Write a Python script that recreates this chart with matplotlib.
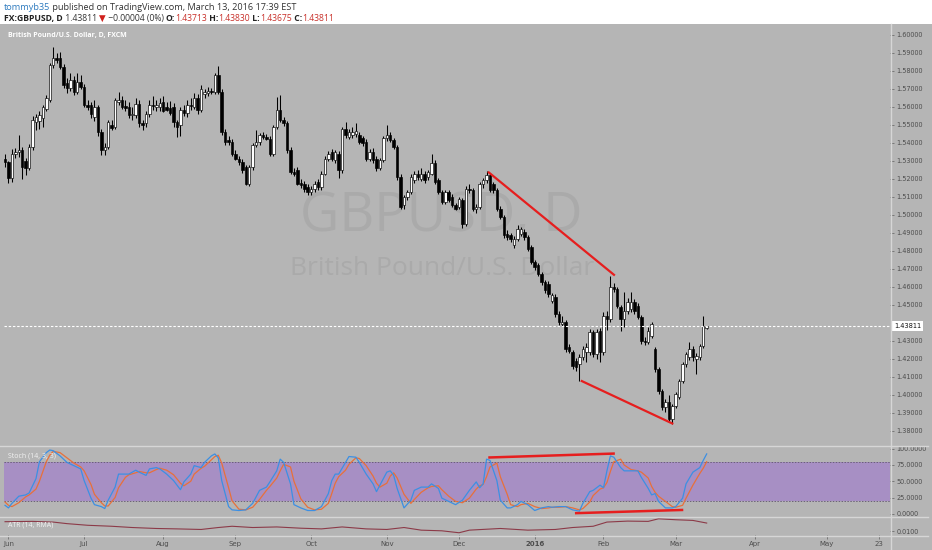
import matplotlib
matplotlib.use("Agg")
import matplotlib.pyplot as plt
from matplotlib.patches import Rectangle
from matplotlib.lines import Line2D
import numpy as np

# ---------------- data (daily bars, index 0 = 29 May 2015 ... 204 = 14 Mar 2016) -------------
open_ = [1.5313,1.5294,1.5205,1.5341,1.5352,1.5362,1.5300,1.5262,1.5378,1.5517,
         1.5520,1.5536,1.5591,1.5638,1.5833,1.5870,1.5870,1.5823,1.5731,1.5703,
         1.5749,1.5684,1.5740,1.5712,1.5610,1.5610,1.5545,1.5601,1.5461,1.5359,
         1.5378,1.5499,1.5489,1.5629,1.5638,1.5604,1.5601,1.5554,1.5554,1.5614,
         1.5508,1.5508,1.5560,1.5610,1.5600,1.5601,1.5625,1.5601,1.5592,1.5601,
         1.5517,1.5499,1.5582,1.5564,1.5610,1.5601,1.5647,1.5582,1.5670,1.5680,
         1.5690,1.5684,1.5777,1.5685,1.5462,1.5415,1.5406,1.5341,1.5313,1.5295,
         1.5267,1.5170,1.5267,1.5387,1.5406,1.5443,1.5434,1.5424,1.5341,1.5490,
         1.5582,1.5527,1.5508,1.5360,1.5239,1.5248,1.5180,1.5170,1.5155,1.5128,
         1.5146,1.5183,1.5156,1.5230,1.5313,1.5350,1.5304,1.5341,1.5248,1.5480,
         1.5434,1.5443,1.5450,1.5443,1.5425,1.5406,1.5313,1.5351,1.5313,1.5258,
         1.5304,1.5425,1.5443,1.5416,1.5378,1.5211,1.5054,1.5100,1.5128,1.5193,
         1.5230,1.5202,1.5230,1.5211,1.5230,1.5286,1.5193,1.5128,1.5072,1.5128,
         1.5100,1.5054,1.5044,1.5081,1.4951,1.5146,1.5140,1.5035,1.5044,1.5174,
         1.5193,1.5221,1.5170,1.5137,1.5035,1.4988,1.4896,1.4886,1.4831,1.4868,
         1.4896,1.4905,1.4877,1.4821,1.4738,1.4719,1.4673,1.4626,1.4617,1.4524,
         1.4543,1.4450,1.4394,1.4403,1.4264,1.4236,1.4190,1.4171,1.4208,1.4236,
         1.4236,1.4348,1.4227,1.4357,1.4236,1.4440,1.4420,1.4599,1.4589,1.4487,
         1.4422,1.4468,1.4478,1.4515,1.4496,1.4431,1.4301,1.4292,1.4329,1.4255,
         1.4143,1.4022,1.3930,1.3958,1.3865,1.3939,1.3990,1.4079,1.4171,1.4208,
         1.4255,1.4199,1.4208,1.4273,1.43713]
high = [1.5341,1.5300,1.5368,1.5372,1.5443,1.5380,1.5318,1.5392,1.5549,1.5558,
        1.5575,1.5610,1.5665,1.5845,1.5935,1.5898,1.5907,1.5840,1.5760,1.5786,
        1.5770,1.5786,1.5775,1.5725,1.5640,1.5625,1.5638,1.5612,1.5475,1.5400,
        1.5530,1.5530,1.5650,1.5684,1.5660,1.5640,1.5625,1.5600,1.5650,1.5640,
        1.5530,1.5580,1.5640,1.5660,1.5640,1.5650,1.5660,1.5630,1.5635,1.5620,
        1.5530,1.5600,1.5610,1.5640,1.5650,1.5675,1.5670,1.5720,1.5700,1.5712,
        1.5705,1.5790,1.5828,1.5700,1.5480,1.5440,1.5420,1.5360,1.5330,1.5310,
        1.5280,1.5280,1.5400,1.5471,1.5455,1.5460,1.5450,1.5440,1.5500,1.5657,
        1.5666,1.5545,1.5520,1.5375,1.5260,1.5265,1.5200,1.5190,1.5170,1.5160,
        1.5190,1.5200,1.5245,1.5325,1.5355,1.5365,1.5360,1.5355,1.5490,1.5517,
        1.5480,1.5490,1.5508,1.5460,1.5440,1.5420,1.5365,1.5370,1.5325,1.5315,
        1.5440,1.5499,1.5460,1.5430,1.5390,1.5225,1.5110,1.5140,1.5225,1.5245,
        1.5250,1.5258,1.5245,1.5250,1.5341,1.5305,1.5205,1.5140,1.5140,1.5140,
        1.5115,1.5065,1.5100,1.5095,1.5160,1.5170,1.5150,1.5060,1.5185,1.5205,
        1.5242,1.5232,1.5185,1.5150,1.5050,1.5000,1.4915,1.4900,1.4880,1.4942,
        1.4935,1.4920,1.4890,1.4835,1.4750,1.4730,1.4685,1.4640,1.4630,1.4565,
        1.4560,1.4465,1.4440,1.4415,1.4285,1.4250,1.4205,1.4225,1.4270,1.4290,
        1.4365,1.4360,1.4365,1.4370,1.4460,1.4465,1.4663,1.4620,1.4600,1.4500,
        1.4571,1.4540,1.4571,1.4535,1.4510,1.4445,1.4320,1.4375,1.4403,1.4265,
        1.4155,1.4035,1.3975,1.4000,1.3950,1.4015,1.4090,1.4185,1.4240,1.4292,
        1.4270,1.4230,1.4285,1.4440,1.43830]
low = [1.5266,1.5177,1.5183,1.5318,1.5322,1.5201,1.5220,1.5250,1.5360,1.5471,
       1.5480,1.5489,1.5575,1.5625,1.5815,1.5842,1.5810,1.5705,1.5675,1.5690,
       1.5665,1.5670,1.5700,1.5600,1.5585,1.5540,1.5520,1.5440,1.5331,1.5335,
       1.5365,1.5470,1.5480,1.5610,1.5590,1.5580,1.5540,1.5530,1.5540,1.5490,
       1.5470,1.5490,1.5545,1.5585,1.5580,1.5580,1.5570,1.5575,1.5555,1.5490,
       1.5434,1.5440,1.5550,1.5545,1.5585,1.5590,1.5560,1.5570,1.5650,1.5660,
       1.5670,1.5670,1.5670,1.5445,1.5390,1.5390,1.5330,1.5305,1.5280,1.5235,
       1.5165,1.5160,1.5250,1.5380,1.5390,1.5420,1.5415,1.5330,1.5325,1.5480,
       1.5515,1.5495,1.5345,1.5225,1.5215,1.5165,1.5150,1.5130,1.5109,1.5110,
       1.5130,1.5140,1.5140,1.5220,1.5300,1.5300,1.5290,1.5205,1.5235,1.5430,
       1.5420,1.5430,1.5435,1.5395,1.5385,1.5300,1.5300,1.5290,1.5245,1.5248,
       1.5295,1.5410,1.5405,1.5365,1.5195,1.5030,1.5035,1.5085,1.5115,1.5180,
       1.5195,1.5190,1.5180,1.5195,1.5220,1.5170,1.5115,1.5060,1.5060,1.5070,
       1.5045,1.5025,1.5030,1.4925,1.4940,1.5120,1.5020,1.5010,1.5030,1.5150,
       1.5180,1.5125,1.5120,1.5020,1.4975,1.4870,1.4860,1.4850,1.4815,1.4855,
       1.4885,1.4860,1.4800,1.4725,1.4695,1.4660,1.4610,1.4565,1.4545,1.4510,
       1.4435,1.4390,1.4380,1.4240,1.4230,1.4145,1.4135,1.4079,1.4195,1.4180,
       1.4220,1.4210,1.4200,1.4180,1.4220,1.4360,1.4405,1.4570,1.4480,1.4357,
       1.4375,1.4450,1.4460,1.4450,1.4420,1.4285,1.4275,1.4280,1.4315,1.4125,
       1.4005,1.3915,1.3905,1.3850,1.3837,1.3925,1.3975,1.4065,1.4155,1.4195,
       1.4190,1.4116,1.4195,1.4260,1.43675]
close = [1.5294,1.5205,1.5341,1.5352,1.5362,1.5265,1.5262,1.5378,1.5526,1.5545,
         1.5556,1.5601,1.5647,1.5833,1.5870,1.5862,1.5823,1.5721,1.5703,1.5749,
         1.5684,1.5740,1.5712,1.5610,1.5601,1.5563,1.5601,1.5461,1.5359,1.5378,
         1.5517,1.5485,1.5638,1.5638,1.5601,1.5592,1.5554,1.5560,1.5614,1.5508,
         1.5498,1.5560,1.5610,1.5605,1.5610,1.5620,1.5580,1.5582,1.5564,1.5517,
         1.5490,1.5582,1.5564,1.5610,1.5605,1.5647,1.5582,1.5700,1.5685,1.5690,
         1.5685,1.5777,1.5685,1.5462,1.5406,1.5406,1.5341,1.5313,1.5295,1.5248,
         1.5170,1.5267,1.5387,1.5406,1.5443,1.5434,1.5424,1.5341,1.5490,1.5582,
         1.5527,1.5508,1.5360,1.5239,1.5230,1.5174,1.5165,1.5145,1.5128,1.5146,
         1.5174,1.5156,1.5230,1.5313,1.5341,1.5313,1.5350,1.5248,1.5480,1.5443,
         1.5462,1.5462,1.5465,1.5406,1.5397,1.5313,1.5351,1.5304,1.5258,1.5304,
         1.5425,1.5443,1.5416,1.5378,1.5211,1.5044,1.5100,1.5128,1.5211,1.5230,
         1.5211,1.5230,1.5193,1.5239,1.5286,1.5183,1.5128,1.5072,1.5128,1.5081,
         1.5054,1.5035,1.5091,1.4951,1.5146,1.5140,1.5035,1.5044,1.5174,1.5193,
         1.5221,1.5137,1.5137,1.5035,1.4988,1.4886,1.4877,1.4868,1.4868,1.4923,
         1.4923,1.4877,1.4812,1.4738,1.4710,1.4673,1.4626,1.4580,1.4561,1.4552,
         1.4450,1.4403,1.4403,1.4255,1.4246,1.4162,1.4153,1.4208,1.4255,1.4264,
         1.4348,1.4227,1.4348,1.4236,1.4440,1.4420,1.4599,1.4589,1.4496,1.4422,
         1.4468,1.4515,1.4515,1.4468,1.4431,1.4301,1.4292,1.4357,1.4394,1.4143,
         1.4022,1.3930,1.3958,1.3865,1.3939,1.4004,1.4079,1.4171,1.4227,1.4255,
         1.4208,1.4218,1.4273,1.4381,1.43811]
last_price = 1.43811

# Stochastic (14,3,3)
stoch_idx = [0,1,2,4,6,7,9,10,12,13,14,16,18,20,22,23,25,26,28,29,30,32,33,35,36,38,39,41,42,44,45,47,49,
             51,52,54,55,57,58,60,61,62,63,65,66,68,70,72,74,76,77,79,80,81,83,84,86,88,90,92,94,95,96,97,
             99,100,102,103,105,107,108,109,111,112,113,114,116,118,119,121,123,124,126,127,129,131,133,135,
             137,138,139,140,141,143,144,146,147,149,150,152,154,156,158,159,161,163,165,167,168,170,171,173,
             174,175,176,177,179,180,182,184,185,187,188,189,190,192,194,195,197,198,200,202,203,204]
stoch_k = [13,9,16,27,29,32,54,80,94,98,97,89,79,74,69,51,24,14,11,8,21,41,61,61,61,67,64,59,69,71,69,61,51,
           37,49,61,74,71,79,89,92,86,51,11,6,5,6,16,36,41,49,66,84,79,46,14,9,5,5,11,31,51,61,61,
           79,88,87,79,61,46,34,44,64,66,59,39,9,21,36,41,41,46,39,24,19,14,21,36,
           49,40,46,84,82,51,21,9,9,14,19,14,5,9,11,10,11,11,6,4,16,34,36,44,
           40,66,89,87,71,66,66,66,56,39,29,31,19,9,9,11,24,46,64,71,82,92]
stoch_d = [18,13,11,17,26,29,38,50,80,90,96,94,86,78,72,66,45,30,17,12,12,25,40,56,60,63,65,63,63,68,70,67,60,
           47,43,50,61,70,73,83,88,90,78,40,20,7,6,10,22,36,42,55,66,76,72,50,23,10,6,7,16,31,47,57,
           67,76,86,85,74,58,47,41,47,58,63,55,30,16,22,33,40,42,43,37,27,19,17,24,
           38,43,45,57,72,78,57,30,14,11,14,16,11,8,9,10,10,11,9,6,8,18,28,38,
           40,48,65,80,84,75,68,66,64,55,42,33,27,19,11,10,13,24,44,62,70,80]

# ATR (14, RMA)
atr_idx = [0,8,14,18,24,31,37,44,50,57,62,66,72,79,86,92,98,105,111,116,121,127,132,135,144,152,160,
           165,171,175,181,187,190,195,200,204]
atr_val = [0.01373,0.01385,0.01358,0.01296,0.01231,0.01192,0.01142,0.01104,0.01088,0.01065,0.01142,
           0.01192,0.01142,0.01165,0.01115,0.01088,0.01165,0.01088,0.01065,0.01142,0.01038,0.01012,
           0.00935,0.01038,0.01104,0.01038,0.01065,0.01142,0.01192,0.01358,0.01396,0.01385,0.01488,
           0.01450,0.01423,0.01319]

# red divergence lines (bar index, value)
price_top_line = ([140.4, 177.3], [1.5240, 1.4663])
price_low_line = ([167.4, 194.3], [1.4079, 1.3838])
stoch_top_line = ([140.5, 177.3], [86.5, 92.6])
stoch_low_line = ([165.7, 197.2], [0.9, 5.9])

month_idx = [1, 23, 46, 67, 89, 111, 132, 154, 174, 195, 218, 239, 254]
month_lbl = ["Jun", "Jul", "Aug", "Sep", "Oct", "Nov", "Dec", "2016", "Feb", "Mar", "Apr", "May", "23"]

# ---------------- figure ----------------
W, H = 932, 550
BG = "#b5b5b5"
SEP = "#d6d6d6"
TXT = "#4d4d4d"
fig = plt.figure(figsize=(W / 100, H / 100), dpi=100)
fig.patch.set_facecolor(BG)

def fx(px): return px / W
def fy(px): return 1 - px / H

fig.add_artist(Rectangle((0, fy(24)), 1, 1 - fy(24), transform=fig.transFigure,
                         facecolor="white", edgecolor="none", zorder=-5))

L, R = 4, 890
ax = fig.add_axes([fx(L), fy(445), fx(R - L), fy(24) - fy(445)])
axs = fig.add_axes([fx(L), fy(516.5), fx(R - L), fy(446) - fy(516.5)], sharex=ax)
axa = fig.add_axes([fx(L), fy(535), fx(R - L), fy(518) - fy(535)], sharex=ax)

for a in (ax, axs, axa):
    a.set_facecolor(BG)
    for s in a.spines.values():
        s.set_visible(False)
    a.yaxis.tick_right()
    a.tick_params(axis="y", direction="out", length=3, width=0.6, color="#6e6e6e",
                  pad=1.5, labelsize=4.7, labelcolor=TXT)

o = np.array(open_); h = np.array(high); l = np.array(low); c = np.array(close)
idx = np.arange(len(c))
up = c >= o
ax.vlines(idx, l, h, color="black", lw=0.75, zorder=2)
body_lo = np.minimum(o, c)
body_h = np.maximum(np.abs(c - o), 0.00015)
ax.bar(idx, body_h, bottom=body_lo, width=0.72,
       color=np.where(up, "white", "black"), edgecolor="black", linewidth=0.45, zorder=3)

ax.set_xlim(-0.3, 257.3)
ax.set_ylim(1.3721, 1.6061)
pt = [round(1.38 + 0.01 * k, 2) for k in range(23)]
pt = [p for p in pt if abs(p - 1.44) > 1e-9]
ax.set_yticks(pt)
ax.set_yticklabels(["%.5f" % p for p in pt])
ax.tick_params(axis="x", bottom=False, labelbottom=False)

# last price line and label
ax.axhline(last_price, color="white", lw=0.8, ls=(0, (2.2, 1.6)), zorder=4)
ax.annotate("%.5f" % last_price, xy=(1.0, last_price), xycoords=("axes fraction", "data"),
            xytext=(3, 0), textcoords="offset points", va="center", ha="left",
            fontsize=4.8, color="#111111", annotation_clip=False,
            bbox=dict(boxstyle="square,pad=0.3", fc="white", ec="none"))

# trend lines
ax.plot(*price_top_line, color="#e61e1e", lw=1.6, zorder=5, solid_capstyle="butt")
ax.plot(*price_low_line, color="#e61e1e", lw=1.6, zorder=5, solid_capstyle="butt")

# watermark
ax.text(0.494, 0.5416, "GBPUSD, D", transform=ax.transAxes, ha="center", va="center",
        fontsize=39, color="#aaaaaa", family="Open Sans", zorder=0)
ax.text(0.494, 0.42, "British Pound/U.S. Dollar", transform=ax.transAxes, ha="center", va="center",
        fontsize=19, color="#aaaaaa", family="Open Sans", zorder=0)
ax.text(0.005, 0.973, "British Pound/U.S. Dollar, D, FXCM", transform=ax.transAxes,
        ha="left", va="center", fontsize=5, color="white", fontweight="bold", family="Open Sans")

# stochastic
axs.set_ylim(-4.2, 104.2)
axs.axhspan(20, 80, color="#a78fc4", zorder=0, lw=0)
axs.axhline(80, color="#6b6078", lw=0.7, ls=(0, (1.5, 1.5)), zorder=1)
axs.axhline(20, color="#6b6078", lw=0.7, ls=(0, (1.5, 1.5)), zorder=1)
axs.plot(stoch_idx, stoch_d, color="#e8703a", lw=0.9, zorder=2)
axs.plot(stoch_idx, stoch_k, color="#3c8fe3", lw=0.9, zorder=3)
axs.plot(*stoch_top_line, color="#e61e1e", lw=1.8, zorder=5, solid_capstyle="butt")
axs.plot(*stoch_low_line, color="#e61e1e", lw=1.8, zorder=5, solid_capstyle="butt")
axs.set_yticks([0, 25, 50, 75, 100])
axs.set_yticklabels(["0.0000", "25.0000", "50.0000", "75.0000", "100.0000"])
axs.tick_params(axis="x", bottom=False, labelbottom=False)
axs.text(0.005, 0.86, "Stoch (14, 3, 3)", transform=axs.transAxes, ha="left", va="center",
         fontsize=5, color="#f2f2f2", family="Open Sans")

# ATR
axa.set_ylim(0.00846, 0.01519)
axa.plot(atr_idx, atr_val, color="#8c3a48", lw=0.8)
axa.set_yticks([0.0100])
axa.set_yticklabels(["0.0100"])
axa.text(0.005, 0.6, "ATR (14, RMA)", transform=axa.transAxes, ha="left", va="center",
         fontsize=5, color="#f2f2f2", family="Open Sans")
axa.set_xticks(month_idx)
axa.set_xticklabels(month_lbl)
axa.tick_params(axis="x", direction="out", length=3, width=0.6, color="#6e6e6e",
                pad=1.5, labelsize=5, labelcolor=TXT)
for t in axa.get_xticklabels():
    if t.get_text() == "2016":
        t.set_fontweight("bold")

# separators
for yy in (445.5, 517.2, 535.5):
    fig.add_artist(Line2D([0, fx(928)], [fy(yy), fy(yy)], transform=fig.transFigure,
                          color=SEP, lw=1.0))
fig.add_artist(Line2D([fx(890.5), fx(890.5)], [fy(24), 0], transform=fig.transFigure,
                      color=SEP, lw=1.0))

# header
hdr_font = dict(family="Open Sans", fontsize=6.6)
t1 = fig.text(fx(4), fy(8), "tommyb35", color="#2e7bbf", va="center", ha="left", **hdr_font)
ann = ax.annotate(" published on TradingView.com, March 13, 2016 17:39 EST", xy=(1, 0.5),
                  xycoords=t1, va="center", ha="left", color="#333333",
                  annotation_clip=False, **hdr_font)

pieces = [("FX:GBPUSD, D", "#222222", "bold"), (" 1.43811 ", "#333333", "normal"),
          ("\u25BC", "#d0201c", "normal"), (" \u22120.00004 (0%) ", "#333333", "normal"),
          ("O:", "#222222", "bold"), ("1.43713", "#c8302a", "normal"),
          (" H:", "#222222", "bold"), ("1.43830", "#c8302a", "normal"),
          (" L:", "#222222", "bold"), ("1.43675", "#c8302a", "normal"),
          (" C:", "#222222", "bold"), ("1.43811", "#c8302a", "normal")]
prev = None
for s, col, wt in pieces:
    if prev is None:
        prev = fig.text(fx(4), fy(18.5), s, color=col, fontweight=wt, va="center", ha="left",
                        family=["Open Sans", "DejaVu Sans"], fontsize=6.2)
    else:
        prev = ax.annotate(s, xy=(1, 0.5), xycoords=prev, va="center", ha="left", color=col,
                           fontweight=wt, family=["Open Sans", "DejaVu Sans"], fontsize=6.2,
                           annotation_clip=False)

fig.savefig("out.png", dpi=100, facecolor=fig.get_facecolor())
